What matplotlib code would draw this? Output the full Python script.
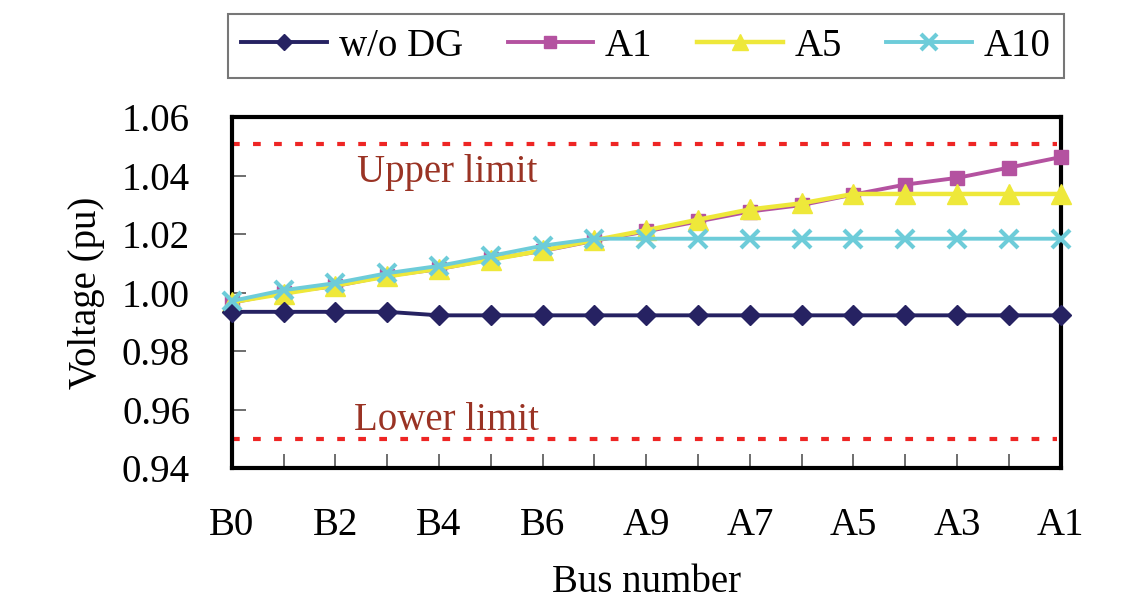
import matplotlib
matplotlib.use("Agg")
import matplotlib.pyplot as plt
from matplotlib.ticker import MultipleLocator, FixedLocator, FixedFormatter

plt.rcParams["font.family"] = ["Liberation Serif", "DejaVu Serif"]

# Bus order along the feeder
buses = ["B0", "B1", "B2", "B3", "B4", "B5", "B6", "B7",
         "A9", "A8", "A7", "A6", "A5", "A4", "A3", "A2", "A1"]

v_no_dg = [0.9935, 0.9935, 0.9935, 0.9935, 0.9923, 0.9923, 0.9923, 0.9923, 0.9923,
           0.9923, 0.9923, 0.9923, 0.9923, 0.9923, 0.9923, 0.9923, 0.9923]
v_a1 = [0.9966, 1.0001, 1.0023, 1.0058, 1.0081, 1.0115, 1.0143, 1.0178, 1.0210,
        1.0244, 1.0278, 1.0300, 1.0336, 1.0370, 1.0393, 1.0428, 1.0464]
v_a5 = [0.9968, 0.9997, 1.0025, 1.0056, 1.0083, 1.0113, 1.0145, 1.0180, 1.0214,
        1.0250, 1.0285, 1.0306, 1.0338, 1.0338, 1.0338, 1.0338, 1.0338]
v_a10 = [0.9972, 1.0009, 1.0033, 1.0067, 1.0092, 1.0126, 1.0161, 1.0185, 1.0185,
         1.0185, 1.0185, 1.0185, 1.0185, 1.0185, 1.0185, 1.0185, 1.0185]

upper_limit = 1.051
lower_limit = 0.95

x = list(range(len(buses)))

fig = plt.figure(figsize=(11.45, 6.02), dpi=100)
ax = fig.add_axes([0.2024, 0.2221, 0.724, 0.583])

ax.axhline(upper_limit, xmin=0, xmax=0.995, color="#ee2524", lw=3,
           linestyle=(0, (1.85, 3.2)), zorder=1)
ax.axhline(lower_limit, xmin=0, xmax=0.995, color="#ee2524", lw=3,
           linestyle=(0, (1.85, 3.2)), zorder=1)

ax.plot(x, v_no_dg, color="#262262", lw=2.8, marker="D", ms=10,
        label="w/o DG", zorder=5, clip_on=False)
ax.plot(x, v_a1, color="#b452a0", lw=2.8, marker="s", ms=10.5,
        label="A1", zorder=3, clip_on=False)
ax.plot(x, v_a5, color="#eee83a", lw=3.2, marker="^", ms=14,
        label="A5", zorder=4, clip_on=False)
ax.plot(x, v_a10, color="#6dccd9", lw=2.8, marker="x", ms=13, mew=3,
        label="A10", zorder=6, clip_on=False)

ax.text(4.15, 1.0379, "Upper limit", color="#9a3324", fontsize=28,
        ha="center", va="baseline")
ax.text(4.15, 0.9532, "Lower limit", color="#9a3324", fontsize=28,
        ha="center", va="baseline")

ax.set_xlim(0, len(buses) - 1)
ax.set_ylim(0.94, 1.06)
ax.yaxis.set_major_locator(MultipleLocator(0.02))
ax.yaxis.set_major_formatter(plt.FormatStrFormatter("%.2f"))
ax.xaxis.set_major_locator(FixedLocator(x))
ax.xaxis.set_major_formatter(FixedFormatter(
    [b if i % 2 == 0 else "" for i, b in enumerate(buses)]))

ax.tick_params(axis="both", direction="in", length=10, width=1.2,
               color="#555555", labelsize=28)
ax.tick_params(axis="x", pad=28)
ax.tick_params(axis="y", pad=30)
for s in ax.spines.values():
    s.set_linewidth(3)
    s.set_color("black")

ax.set_xlabel("Bus number", fontsize=28, labelpad=14)
ax.set_ylabel("Voltage (pu)", fontsize=28, labelpad=12)

leg = fig.legend(loc="center", bbox_to_anchor=(0.5642, 0.923), ncol=4,
                 fontsize=28, frameon=True, fancybox=False, handlelength=2.2,
                 handletextpad=0.3, columnspacing=1.15, borderpad=0.35,
                 markerscale=0.85)
leg.get_frame().set_edgecolor("#555555")
leg.get_frame().set_linewidth(1.5)

fig.savefig("out.png", dpi=100)
